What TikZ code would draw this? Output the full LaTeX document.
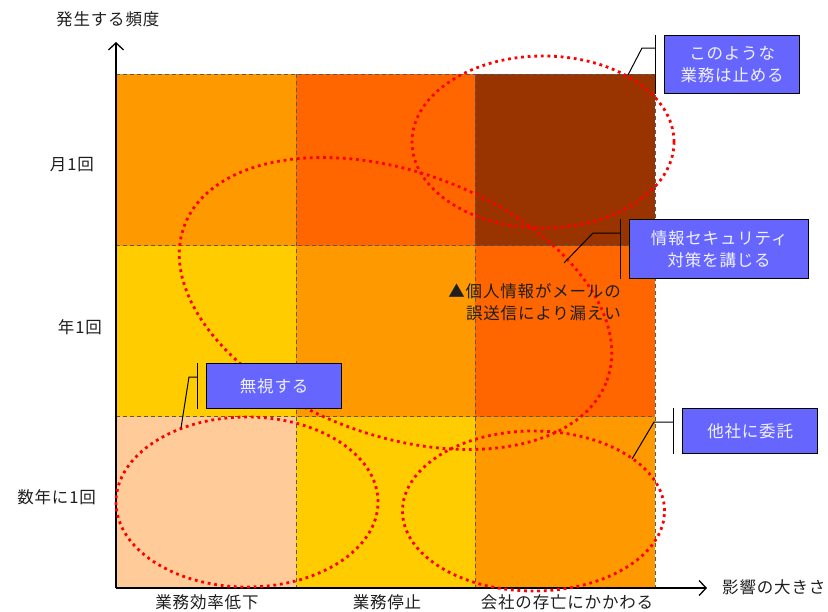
\documentclass[tikz,border=0pt]{standalone}
\usepackage{fontspec}
\newfontfamily\jp{Noto Sans CJK JP}[LetterSpace=5]
\usetikzlibrary{arrows.meta}
\definecolor{corange}{HTML}{FF9900}
\definecolor{cred}{HTML}{FF6600}
\definecolor{cbrown}{HTML}{993300}
\definecolor{cyellow}{HTML}{FFCC00}
\definecolor{cpeach}{HTML}{FFCC99}
\definecolor{boxblue}{HTML}{6666FF}
\definecolor{boxtext}{HTML}{F0F0FF}
\definecolor{gridgray}{HTML}{5A5A5A}
\definecolor{txt}{HTML}{1E1E1E}
\begin{document}
\begin{tikzpicture}[x=1pt,y=-1pt,
  lab/.style={font=\jp\fontsize{16.5}{22}\selectfont, text=txt, inner sep=0pt},
  gridline/.style={draw=gridgray, dash pattern=on 4pt off 3pt, line width=0.8pt},
  axisline/.style={draw=black, line width=1.3pt, -{Straight Barb[length=7pt,width=15pt,line width=1.3pt]}},
  oval/.style={draw=red, line width=2.8pt, dash pattern=on 2.8pt off 3.8pt},
  callbox/.style={draw=black, line width=1.3pt, fill=boxblue, text=boxtext,
    font=\jp\fontsize{16.5}{22}\selectfont, align=center, inner sep=0pt, anchor=north west},
  lead/.style={draw=black, line width=1pt}
]
\useasboundingbox (0,0) rectangle (828,611);
% cells
\fill[corange] (116,74) rectangle (296,245.5);
\fill[cred]    (296,74) rectangle (475,245.5);
\fill[cbrown]  (475,74) rectangle (655,245.5);
\fill[cyellow] (116,245.5) rectangle (296,416.5);
\fill[corange] (296,245.5) rectangle (475,416.5);
\fill[cred]    (475,245.5) rectangle (655,416.5);
\fill[cpeach]  (116,416.5) rectangle (296,588);
\fill[cyellow] (296,416.5) rectangle (475,588);
\fill[corange] (475,416.5) rectangle (655,588);
% grid
\draw[gridline] (116,74) -- (655,74);
\draw[gridline] (116,245.5) -- (655,245.5);
\draw[gridline] (116,416.5) -- (655,416.5);
\draw[gridline] (296,74) -- (296,588);
\draw[gridline] (475,74) -- (475,588);
\draw[gridline] (655,74) -- (655,588);
% axes
\coordinate (o) at (116,588);
\coordinate (ytip) at (116,42);
\coordinate (xtip) at (707,588);
\draw[axisline] (o) -- (ytip);
\draw[axisline] (o) -- (xtip);
% ovals
\draw[oval] (543,142) ellipse [x radius=131pt, y radius=86pt];
\draw[oval] (247,502) ellipse [x radius=131pt, y radius=85pt];
\draw[oval] (533.5,511) ellipse [x radius=131pt, y radius=80pt];
\draw[oval, shift={(395.5,303.5)}, rotate=-20] (0,0) ellipse [x radius=225pt, y radius=132pt];
% labels
\node[lab, anchor=west] (ty) at (56,19) {発生する頻度};
\node[lab, anchor=west] (tx) at (722,587) {影響の大きさ};
\node[lab, anchor=east] (m1) at (94,165) {月1回};
\node[lab, anchor=east] (m2) at (102,327) {年1回};
\node[lab, anchor=east] (m3) at (96,497) {数年に1回};
\node[lab] (x1) at (207,602.5) {業務効率低下};
\node[lab] (x2) at (387,602.5) {業務停止};
\node[lab] (x3) at (567,602.5) {会社の存亡にかかわる};
\node[lab, align=right, anchor=east] (note) at (621,302.5) {▲個人情報がメールの\\誤送信により漏えい};
% callouts
\node[callbox, minimum width=135pt, minimum height=58pt] (b1) at (664,35) {このような\\業務は止める};
\coordinate (p1) at (628,75);
\draw[lead] ([xshift=-9pt]b1.north west) -- ([xshift=-9pt]b1.south west);
\draw[lead] (p1) -- ([xshift=-22pt,yshift=-13pt]b1.north west) -- ([xshift=-9pt,yshift=-13pt]b1.north west);

\node[callbox, minimum width=179pt, minimum height=59pt] (b2) at (629,219) {情報セキュリティ\\対策を講じる};
\coordinate (p2) at (564,263);
\draw[lead] ([xshift=-9pt]b2.north west) -- ([xshift=-9pt]b2.south west);
\draw[lead] (p2) -- ([xshift=-36pt,yshift=-14pt]b2.north west) -- ([xshift=-9pt,yshift=-14pt]b2.north west);

\node[callbox, minimum width=135pt, minimum height=45pt] (b3) at (206,363) {無視する};
\coordinate (p3) at (181,428);
\draw[lead] ([xshift=-9pt]b3.north west) -- ([xshift=-9pt]b3.south west);
\draw[lead] (p3) -- ([xshift=-17pt,yshift=-14pt]b3.north west) -- ([xshift=-9pt,yshift=-14pt]b3.north west);

\node[callbox, minimum width=135pt, minimum height=45pt] (b4) at (682,408) {他社に委託};
\coordinate (p4) at (632,459);
\draw[lead] ([xshift=-9pt]b4.north west) -- ([xshift=-9pt]b4.south west);
\draw[lead] (p4) -- ([xshift=-28pt,yshift=-14pt]b4.north west) -- ([xshift=-9pt,yshift=-14pt]b4.north west);
\end{tikzpicture}
\end{document}
